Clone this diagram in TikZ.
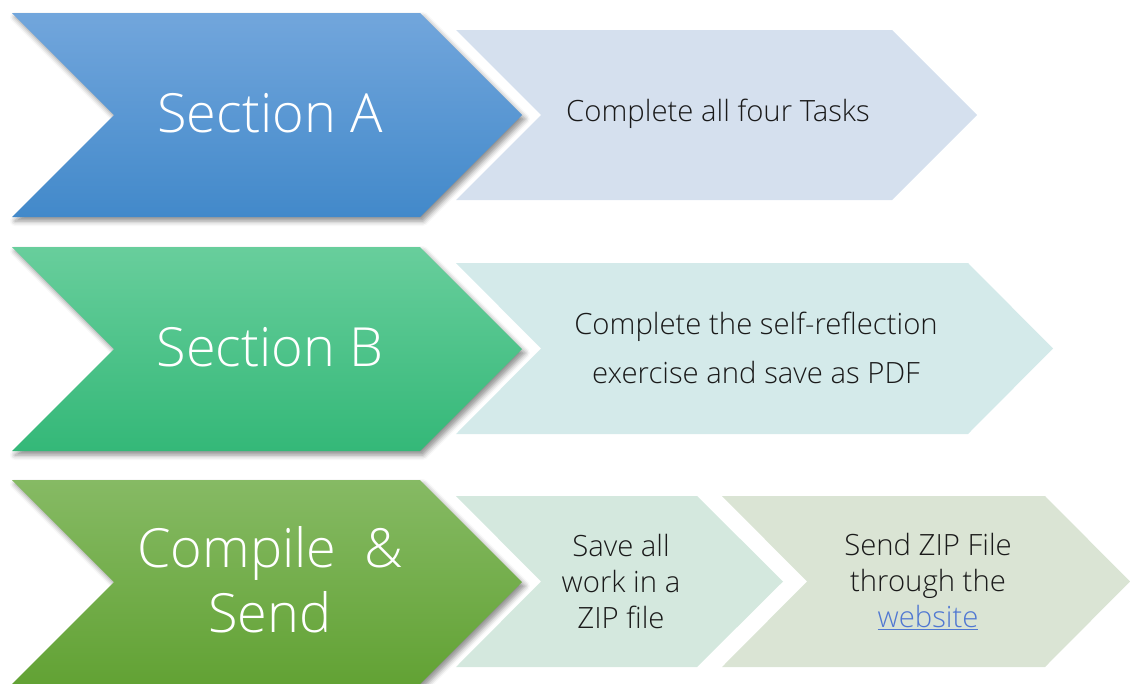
\documentclass[tikz,border=0pt]{standalone}
\usepackage{fontspec}
\setmainfont{Open Sans Light}
\usetikzlibrary{shadows.blur}
\definecolor{aTop}{RGB}{114,166,220}
\definecolor{aBot}{RGB}{66,137,202}
\definecolor{bTop}{RGB}{104,206,156}
\definecolor{bBot}{RGB}{52,184,120}
\definecolor{cTop}{RGB}{134,186,100}
\definecolor{cBot}{RGB}{98,162,52}
\definecolor{lOne}{RGB}{213,224,238}
\definecolor{lTwo}{RGB}{212,234,234}
\definecolor{lThree}{RGB}{212,232,222}
\definecolor{lFour}{RGB}{218,228,212}
\definecolor{txt}{RGB}{26,26,26}
\definecolor{linkc}{RGB}{80,120,210}
\tikzset{
  bigchev/.style={blur shadow={shadow xshift=3pt,shadow yshift=-4pt,shadow blur radius=5pt,shadow opacity=45}},
  bigtext/.style={text=white,font=\fontsize{54}{65}\selectfont,align=center,inner sep=0pt},
  smalltext/.style={text=txt,font=\fontsize{29.3}{36}\selectfont,align=center,inner sep=0pt},
}
\begin{document}
\begin{tikzpicture}[x=1pt,y=-1pt]
\useasboundingbox (0,0) rectangle (1130,683);
% light boxes
\fill[lOne] (456,30)--(892,30)--(977,115)--(892,200)--(456,200)--(541,115)--cycle;
\fill[lTwo] (456,263)--(968,263)--(1053,348.5)--(968,434)--(456,434)--(541,348.5)--cycle;
\fill[lThree] (456,496)--(697,496)--(783,581.5)--(697,667)--(456,667)--(541,581.5)--cycle;
\fill[lFour] (722,496)--(1045,496)--(1130,581.5)--(1045,667)--(722,667)--(807,581.5)--cycle;
% dark chevrons
\path[bigchev,top color=aTop,bottom color=aBot] (12,13)--(420,13)--(522,115)--(420,217)--(12,217)--(114,115)--cycle;
\path[bigchev,top color=bTop,bottom color=bBot] (12,247)--(420,247)--(522,349)--(420,451)--(12,451)--(114,349)--cycle;
\path[bigchev,top color=cTop,bottom color=cBot] (12,480)--(420,480)--(522,582)--(420,684)--(12,684)--(114,582)--cycle;
% texts
\node[bigtext] (secA) at (270,113) {Section A};
\node[bigtext] (secB) at (270,347) {Section B};
\node[bigtext] (secC) at (270,580) {Compile\ \ \&\\Send};
\node[smalltext] (tA) at (718,114) {Complete all four Tasks};
\node[smalltext,font=\fontsize{29.3}{49}\selectfont] (tB) at (756,348) {Complete the self-reflection\\exercise and save as PDF};
\node[smalltext] (tC) at (621,582) {Save all\\work in a\\ZIP file};
\node[smalltext] (tD) at (928,582) {Send ZIP File\\through the\\{\color{linkc}\underline{website}}};
\end{tikzpicture}
\end{document}
